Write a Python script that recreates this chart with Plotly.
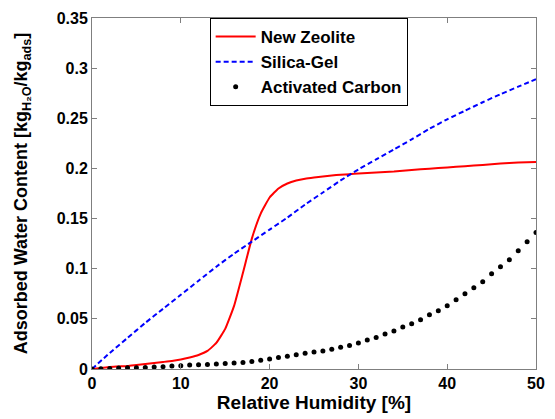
import plotly.graph_objects as go

# Relative humidity [%] and adsorbed water content [kg_H2O/kg_ads]
zeolite_rh = [0, 1, 2, 3, 4, 5, 6, 7, 8, 9, 10, 11, 12, 13, 14, 15, 16, 17, 18, 19,
              20, 21, 22, 23, 24, 25, 26, 27, 28, 29, 30, 32, 34, 36, 38, 40, 42, 44, 46, 48, 50]
zeolite_val = [0, 0.001, 0.002, 0.0025, 0.003, 0.004, 0.005, 0.006, 0.007, 0.008, 0.0095,
               0.0115, 0.014, 0.018, 0.026, 0.040, 0.063, 0.096, 0.130, 0.155,
               0.171, 0.180, 0.185, 0.188, 0.1898, 0.191, 0.192, 0.193, 0.1937, 0.1943,
               0.195, 0.196, 0.197, 0.1985, 0.1998, 0.201, 0.2022, 0.2035, 0.2048, 0.2058, 0.2065]

silica_rh = [0, 2, 4, 6, 8, 10, 12, 14, 16, 18, 20, 22, 24, 26, 28, 30, 32, 34, 36, 38,
             40, 42, 44, 46, 48, 50]
silica_val = [0, 0.016, 0.031, 0.046, 0.060, 0.074, 0.088, 0.102, 0.115, 0.127, 0.139,
              0.151, 0.164, 0.176, 0.188, 0.199, 0.209, 0.219, 0.229, 0.2395,
              0.249, 0.2575, 0.266, 0.274, 0.2815, 0.289]

carbon_rh = list(range(0, 51))
carbon_val = [0, 0.0002, 0.0004, 0.001, 0.0013, 0.0013, 0.0016, 0.002, 0.0023, 0.003,
              0.0033, 0.004, 0.0042, 0.0046, 0.005, 0.0055, 0.006, 0.0065, 0.0075, 0.0088,
              0.010, 0.0114, 0.0127, 0.0143, 0.0156, 0.017, 0.018, 0.0196, 0.0216, 0.0235,
              0.026, 0.029, 0.0314, 0.035, 0.038, 0.042, 0.045, 0.049, 0.054, 0.058,
              0.063, 0.069, 0.075, 0.081, 0.087, 0.095, 0.102, 0.109, 0.118, 0.127, 0.136]

x_ticks = [0, 10, 20, 30, 40, 50]
y_ticks = [0, 0.05, 0.1, 0.15, 0.2, 0.25, 0.3, 0.35]
y_tick_labels = ["0", "0.05", "0.1", "0.15", "0.2", "0.25", "0.3", "0.35"]

FONT = "Liberation Sans, Arial, sans-serif"

fig = go.Figure()
fig.add_trace(go.Scatter(x=zeolite_rh, y=zeolite_val, mode="lines", name="New Zeolite",
                         line=dict(color="#ff0000", width=2, shape="spline", smoothing=0.4)))
fig.add_trace(go.Scatter(x=silica_rh, y=silica_val, mode="lines", name="Silica-Gel",
                         line=dict(color="#0000ff", width=2, dash="5px,3px",
                                   shape="spline", smoothing=0.6)))
fig.add_trace(go.Scatter(x=carbon_rh, y=carbon_val, mode="markers", name="Activated Carbon",
                         marker=dict(color="black", size=5)))

axis_common = dict(showline=True, mirror="ticks", linecolor="#7f7f7f", linewidth=1,
                   ticks="inside", ticklen=5, tickcolor="#7f7f7f", showgrid=False,
                   zeroline=False,
                   tickfont=dict(family=FONT, size=16, color="black", weight="bold"))

fig.update_xaxes(range=[0, 50], tickvals=x_ticks,
                 title=dict(text="Relative Humidity [%]", standoff=3,
                            font=dict(family=FONT, size=19, color="black", weight="bold")),
                 **axis_common)
fig.update_yaxes(range=[0, 0.35], tickvals=y_ticks, ticktext=y_tick_labels,
                 title=dict(text="Adsorbed Water Content [kg<sub>H₂O</sub>/kg<sub>ads</sub>]",
                            standoff=24,
                            font=dict(family=FONT, size=18, color="black", weight="bold")),
                 **axis_common)

fig.update_layout(
    width=555, height=419,
    margin=dict(l=92, r=10, t=16, b=48),
    plot_bgcolor="white", paper_bgcolor="white",
    legend=dict(x=0.265, y=1, xanchor="left", yanchor="top",
                bgcolor="white", bordercolor="black", borderwidth=1,
                font=dict(family=FONT, size=17, color="black", weight="bold"),
                itemwidth=40, tracegroupgap=0),
)

fig.write_html("out.html")
